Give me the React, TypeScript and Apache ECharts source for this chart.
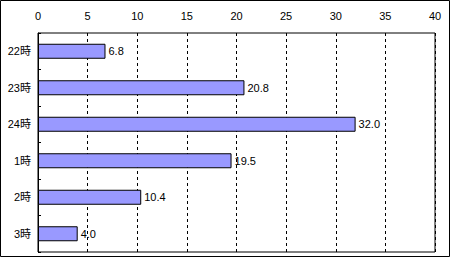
import React, { useEffect, useRef } from "react";
import * as echarts from "echarts";

const categories = ["22時", "23時", "24時", "1時", "2時", "3時"];
const values = [6.8, 20.8, 32.0, 19.5, 10.4, 4.0];
const xTicks = { min: 0, max: 40, interval: 5 };

const FONT = "'Liberation Sans', 'Noto Sans CJK JP', sans-serif";

export default function App() {
  const ref = useRef<HTMLDivElement>(null);
  useEffect(() => {
    if (!ref.current) return;
    const chart = echarts.init(ref.current, null, { renderer: "svg" });
    chart.setOption({
      animation: false,
      backgroundColor: "#ffffff",
      graphic: [
        {
          type: "rect",
          shape: { x: 0.5, y: 0.5, width: 449, height: 256 },
          style: { fill: "none", stroke: "#000000", lineWidth: 1 },
          silent: true,
          z: 100,
        },
      ],
      grid: {
        left: 38,
        top: 33,
        width: 397,
        height: 219,
        show: true,
        borderColor: "#000000",
        borderWidth: 1,
        backgroundColor: "#ffffff",
      },
      xAxis: {
        type: "value",
        position: "top",
        min: xTicks.min,
        max: xTicks.max,
        interval: xTicks.interval,
        axisLine: { show: false },
        axisTick: { show: false },
        axisLabel: {
          color: "#000000",
          fontFamily: FONT,
          fontSize: 11,
          margin: 12,
          showMinLabel: true,
          showMaxLabel: true,
        },
        splitLine: {
          show: true,
          lineStyle: { color: "#000000", type: [3, 3], width: 1 },
        },
      },
      yAxis: {
        type: "category",
        data: categories,
        inverse: true,
        axisLine: { show: true, lineStyle: { color: "#000000", width: 1 } },
        axisTick: { show: true, inside: true, length: 3, lineStyle: { color: "#000000" } },
        axisLabel: {
          color: "#000000",
          fontFamily: FONT,
          fontSize: 11,
          margin: 7,
        },
        splitLine: { show: false },
      },
      series: [
        {
          type: "bar",
          data: values,
          barWidth: 15,
          itemStyle: { color: "#9999ff", borderColor: "#000000", borderWidth: 1 },
          label: {
            show: true,
            position: "right",
            distance: 3,
            color: "#000000",
            fontFamily: FONT,
            fontSize: 11,
            formatter: (p: any) => Number(p.value).toFixed(1),
          },
        },
      ],
    });
    return () => chart.dispose();
  }, []);
  return (
    <div
      ref={ref}
      style={{ position: "fixed", left: 0, top: 0, width: 450, height: 257 }}
    />
  );
}
